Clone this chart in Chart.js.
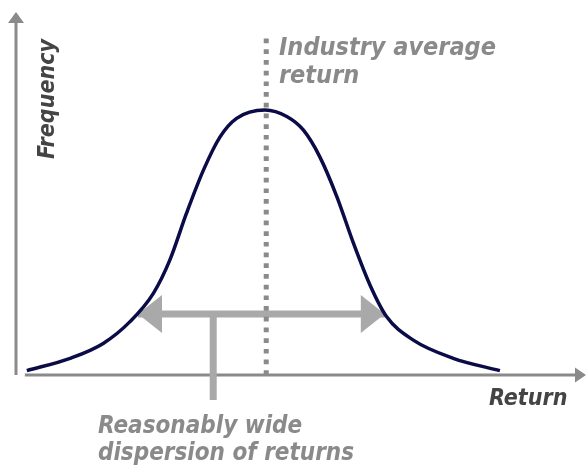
<!DOCTYPE html>
<html>
<head>
<meta charset="utf-8">
<script src="https://cdn.jsdelivr.net/npm/chart.js@4"></script>
<style>
  html, body { margin: 0; padding: 0; background: #fff; }
  canvas { display: block; }
</style>
</head>
<body>
<canvas id="chart" width="587" height="465"></canvas>
<script>
// bell curve (x = return, y = frequency, both 0..100)
const returns = [1.9, 9.5, 15.3, 20.0, 24.1, 27.0, 29.9, 32.9, 35.8, 38.7, 43.7,
                 47.5, 50.4, 53.3, 56.3, 59.2, 62.1, 65.0, 69.7, 76.7, 84.9];
const frequency = [1.2, 4.6, 8.7, 14.7, 22.5, 31.7, 44.5, 56.5, 65.6, 70.7, 73.0,
                   71.2, 67.5, 60.1, 49.1, 36.3, 24.8, 16.1, 9.6, 4.6, 1.2];

// industry average marker
const averageReturn = [43.9, 43.9];
const averageLine = [0, 93.1];

// dispersion arrow (low/high end) and its label stem
const dispersionX = [21.4, 64.7];
const dispersionY = [16.8, 16.8];
const stemX = [34.6, 34.6];
const stemY = [16.8, -6.9];

const axisTitles = ['Return', 'Frequency'];
const averageLabel = ['Industry average', 'return'];
const dispersionLabel = ['Reasonably wide', 'dispersion of returns'];

const toPoints = (xs, ys) => xs.map((v, i) => ({ x: v, y: ys[i] }));

const FONT = '"DejaVu Sans Condensed", "DejaVu Sans", sans-serif';
const AXIS_GREY = '#8a8a8a';
const ARROW_GREY = '#a9a9a9';

function arrowHead(ctx, tipX, tipY, dirX, dirY, len, half) {
    // dir is unit vector pointing to the tip
    const bx = tipX - dirX * len, by = tipY - dirY * len;
    ctx.beginPath();
    ctx.moveTo(tipX, tipY);
    ctx.lineTo(bx - dirY * half, by + dirX * half);
    ctx.lineTo(bx + dirY * half, by - dirX * half);
    ctx.closePath();
    ctx.fill();
}

const drawings = {
    id: 'drawings',
    beforeDatasetsDraw(chart) {
        const { ctx, scales: { x, y } } = chart;
        const ox = x.getPixelForValue(0);
        const oy = y.getPixelForValue(0);
        ctx.save();
        // axes with arrow heads
        ctx.strokeStyle = AXIS_GREY;
        ctx.fillStyle = AXIS_GREY;
        ctx.lineWidth = 3;
        ctx.beginPath();
        ctx.moveTo(ox, oy);
        ctx.lineTo(ox, y.getPixelForValue(100) + 9);
        ctx.stroke();
        arrowHead(ctx, ox, y.getPixelForValue(100), 0, -1, 11, 8);
        ctx.beginPath();
        ctx.moveTo(x.getPixelForValue(returns[0]) - 2, oy);
        ctx.lineTo(x.getPixelForValue(100) - 9, oy);
        ctx.stroke();
        arrowHead(ctx, x.getPixelForValue(100), oy, 1, 0, 11, 7.5);

        // dispersion arrow heads
        ctx.fillStyle = ARROW_GREY;
        const ay = y.getPixelForValue(dispersionY[0]);
        arrowHead(ctx, x.getPixelForValue(dispersionX[0]), ay, -1, 0, 24, 19);
        arrowHead(ctx, x.getPixelForValue(dispersionX[1]), ay, 1, 0, 24, 19);
        ctx.restore();
    },
    afterDraw(chart) {
        const { ctx } = chart;
        ctx.save();
        ctx.textBaseline = 'alphabetic';
        ctx.textAlign = 'left';

        ctx.fillStyle = '#8a8a8a';
        ctx.font = 'italic bold 25px ' + FONT;
        ctx.fillText(averageLabel[0], 279, 55);
        ctx.fillText(averageLabel[1], 279, 83);
        ctx.font = 'italic bold 24px ' + FONT;
        ctx.fillText(dispersionLabel[0], 98, 433);
        ctx.fillText(dispersionLabel[1], 98, 460);

        ctx.fillStyle = '#444444';
        ctx.font = 'italic bold 23px ' + FONT;
        ctx.fillText(axisTitles[0], 489, 405);
        ctx.translate(54, 159);
        ctx.rotate(-Math.PI / 2);
        ctx.fillText(axisTitles[1], 0, 0);
        ctx.restore();
    }
};

new Chart(document.getElementById('chart'), {
    type: 'scatter',
    data: {
        datasets: [
            {
                data: toPoints(returns, frequency),
                showLine: true,
                borderColor: '#0b0b47',
                borderWidth: 3.5,
                cubicInterpolationMode: 'monotone',
                pointRadius: 0,
                clip: false
            },
            {
                data: toPoints(averageReturn, averageLine),
                showLine: true,
                borderColor: AXIS_GREY,
                borderWidth: 5,
                borderDash: [4.7, 6],
                borderCapStyle: 'butt',
                pointRadius: 0,
                clip: false
            },
            {
                data: toPoints(dispersionX, dispersionY),
                showLine: true,
                borderColor: ARROW_GREY,
                borderWidth: 7,
                pointRadius: 0,
                clip: false
            },
            {
                data: toPoints(stemX, stemY),
                showLine: true,
                borderColor: ARROW_GREY,
                borderWidth: 7,
                borderCapStyle: 'butt',
                pointRadius: 0,
                clip: false
            }
        ]
    },
    options: {
        responsive: false,
        animation: false,
        devicePixelRatio: 1,
        layout: { padding: { left: 16, right: 1, top: 12, bottom: 90 } },
        scales: {
            x: { type: 'linear', min: 0, max: 100, display: false },
            y: { type: 'linear', min: 0, max: 100, display: false }
        },
        plugins: {
            legend: { display: false },
            tooltip: { enabled: false }
        }
    },
    plugins: [drawings]
});
</script>
</body>
</html>
